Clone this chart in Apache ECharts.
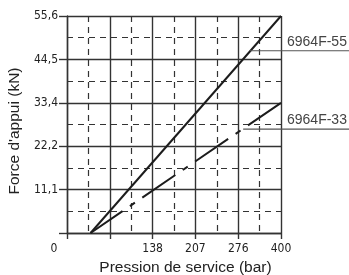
<!DOCTYPE html>
<html>
<head>
<meta charset="utf-8">
<script src="https://cdn.jsdelivr.net/npm/echarts@6/dist/echarts.min.js"></script>
<style>
  html, body { margin: 0; padding: 0; background: #fff; }
  #chart { width: 349px; height: 275px; }
</style>
</head>
<body>
<div id="chart"></div>
<script>
const INK = "#1c1c1c";
const GRID = "#333";
const TEXT = "#222";
const LABEL_FONT = "'Liberation Sans Narrow', 'DejaVu Sans Condensed', sans-serif";
const TITLE_FONT = "'Liberation Sans', Arial, sans-serif";

// pression (bar) : grille tous les 69 bar
const xMax = 345;
const xStep = 69;
const xLabels = ["0", "", "138", "207", "276", "400"];
// force (kN)
const yMax = 55.6;
const yStep = 11.12;
const yLabels = ["", "11,1", "22,2", "33,4", "44,5", "55,6"];

const names = ["6964F-55", "6964F-33"];
const line55 = [[38, 0], [345, 55.6]];
const line33 = [[345, 33.36], [38, 0]];
// point de départ du trait de rappel sur chaque courbe
const leaderAnchors = [[295, 46.7], [284, 26.6]];

const chart = echarts.init(document.getElementById("chart"), null, { renderer: "canvas" });

chart.setOption({
  animation: false,
  grid: { left: 67, right: 68, top: 16, bottom: 42, containLabel: false, outerBoundsMode: "none" },
  xAxis: {
    type: "value",
    min: 0,
    max: xMax,
    interval: xStep,
    name: "Pression de service (bar)",
    nameLocation: "middle",
    nameGap: 27,
    nameTextStyle: { color: TEXT, fontFamily: TITLE_FONT, fontSize: 15.5, padding: [0, 0, 0, 23] },
    axisLine: { show: true, lineStyle: { color: GRID, width: 1.4 } },
    axisTick: { show: true, inside: false, length: 6, lineStyle: { color: GRID, width: 1.4 } },
    axisLabel: {
      margin: 10,
      color: TEXT,
      fontFamily: LABEL_FONT,
      fontSize: 12,
      formatter: (value) => {
        const text = xLabels[Math.round(value / xStep)] || "";
        return value === 0 ? "{zero|" + text + "}" : text;
      },
      rich: { zero: { fontFamily: LABEL_FONT, fontSize: 12, color: TEXT, padding: [0, 26, 0, 0] } },
    },
    splitLine: { show: true, lineStyle: { color: GRID, width: 1.4 } },
    minorTick: { show: false, splitNumber: 2 },
    minorSplitLine: { show: true, lineStyle: { color: GRID, width: 1.2, type: [6, 5] } },
  },
  yAxis: {
    type: "value",
    min: 0,
    max: yMax,
    interval: yStep,
    name: "Force d'appui (kN)",
    nameLocation: "middle",
    nameGap: 25,
    nameRotate: 90,
    nameTextStyle: { color: TEXT, fontFamily: TITLE_FONT, fontSize: 15.5, padding: [0, 13, 0, 0] },
    axisLine: { show: true, lineStyle: { color: GRID, width: 1.4 } },
    axisTick: { show: true, inside: false, length: 8, lineStyle: { color: GRID, width: 1.4 } },
    axisLabel: {
      margin: 9,
      color: TEXT,
      fontFamily: LABEL_FONT,
      fontSize: 12,
      formatter: (value) => yLabels[Math.round(value / yStep)] || "",
    },
    splitLine: { show: true, lineStyle: { color: GRID, width: 1.4 } },
    minorTick: { show: false, splitNumber: 2 },
    minorSplitLine: { show: true, lineStyle: { color: GRID, width: 1.2, type: [6, 5] } },
  },
  series: [
    {
      name: names[0],
      type: "line",
      data: line55,
      symbol: "none",
      lineStyle: { color: INK, width: 2 },
      z: 3,
    },
    {
      name: names[1],
      type: "line",
      data: line33,
      symbol: "none",
      lineStyle: { color: INK, width: 2, type: [40, 9, 6, 9] },
      z: 3,
    },
  ],
});

// traits de rappel et repères à droite du graphique
const graphic = [];
leaderAnchors.forEach((anchor, i) => {
  const [px, py] = chart.convertToPixel({ gridIndex: 0 }, anchor);
  const [rightX] = chart.convertToPixel({ gridIndex: 0 }, [xMax, anchor[1]]);
  graphic.push({
    type: "line",
    shape: { x1: px, y1: py, x2: 349, y2: py },
    style: { stroke: "#555", lineWidth: 1.2 },
    z: 4,
  });
  graphic.push({
    type: "text",
    x: rightX + 6,
    y: py - 2,
    style: {
      text: names[i],
      fill: "#444",
      font: "14px " + TITLE_FONT,
      textAlign: "left",
      textVerticalAlign: "bottom",
    },
    z: 4,
  });
});
chart.setOption({ graphic });

window.addEventListener("resize", () => chart.resize());
</script>
</body>
</html>
